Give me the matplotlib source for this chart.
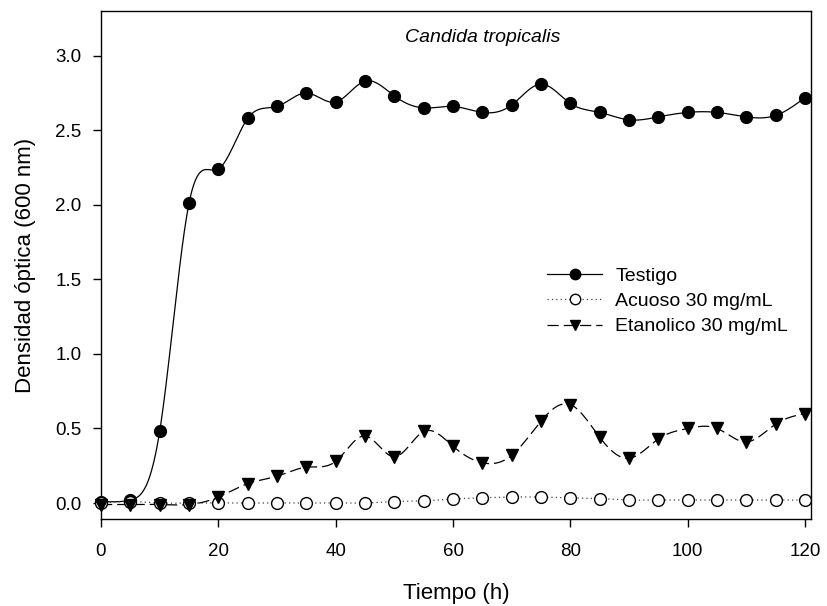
import numpy as np
import matplotlib
matplotlib.use("Agg")
import matplotlib.pyplot as plt

plt.rcParams['font.family'] = ['Liberation Sans', 'DejaVu Sans']

tiempo = [0, 5, 10, 15, 20, 25, 30, 35, 40, 45, 50, 55, 60,
          65, 70, 75, 80, 85, 90, 95, 100, 105, 110, 115, 120]
testigo = [0.01, 0.02, 0.48, 2.01, 2.24, 2.58, 2.66, 2.75, 2.69, 2.83, 2.73, 2.65, 2.66,
           2.62, 2.67, 2.81, 2.68, 2.62, 2.57, 2.59, 2.62, 2.62, 2.59, 2.60, 2.72]
acuoso = [0.00, 0.01, 0.00, 0.00, 0.00, 0.00, 0.00, 0.00, 0.00, 0.00, 0.01, 0.015, 0.027,
          0.035, 0.04, 0.04, 0.035, 0.03, 0.02, 0.02, 0.02, 0.02, 0.02, 0.02, 0.02]
etanolico = [-0.01, -0.01, -0.01, -0.01, 0.04, 0.13, 0.18, 0.24, 0.28, 0.45, 0.31, 0.48, 0.38,
             0.27, 0.32, 0.55, 0.66, 0.44, 0.30, 0.43, 0.50, 0.50, 0.41, 0.53, 0.60]


def spline(x, y, n=600):
    # natural cubic spline, only used to draw the smooth connecting line
    x = np.asarray(x, float)
    y = np.asarray(y, float)
    k = len(x)
    h = np.diff(x)
    A = np.zeros((k, k))
    b = np.zeros(k)
    A[0, 0] = A[-1, -1] = 1
    for i in range(1, k - 1):
        A[i, i - 1] = h[i - 1]
        A[i, i] = 2 * (h[i - 1] + h[i])
        A[i, i + 1] = h[i]
        b[i] = 3 * ((y[i + 1] - y[i]) / h[i] - (y[i] - y[i - 1]) / h[i - 1])
    c = np.linalg.solve(A, b)
    xs = np.linspace(x[0], x[-1], n)
    j = np.clip(np.searchsorted(x, xs) - 1, 0, k - 2)
    dx = xs - x[j]
    bb = (y[j + 1] - y[j]) / h[j] - h[j] * (2 * c[j] + c[j + 1]) / 3
    dd = (c[j + 1] - c[j]) / (3 * h[j])
    return xs, y[j] + bb * dx + c[j] * dx ** 2 + dd * dx ** 3


fig = plt.figure(figsize=(8.27, 6.06), dpi=100)
ax = fig.add_axes([0.1221, 0.1436, 0.8586, 0.8382])

series = [
    (testigo, 'Testigo', 'o', 'black', '-', 'black'),
    (acuoso, 'Acuoso 30 mg/mL', 'o', 'white', (0, (1, 2.5)), '#444444'),
    (etanolico, 'Etanolico 30 mg/mL', 'v', 'black', (0, (9, 4)), 'black'),
]
handles = []
for vals, lab, mk, fc, ls, lc in series:
    xs, ys = spline(tiempo, vals)
    ax.plot(xs, ys, color=lc, lw=0.9, ls=ls, zorder=2)
    ax.plot(tiempo, vals, ls='none', marker=mk, ms=8.5, mfc=fc, mec='black',
            mew=1.0, clip_on=False, zorder=3)
    h, = ax.plot([], [], color=lc, lw=0.9, ls=ls, marker=mk, ms=7.5, mfc=fc,
                 mec='black', mew=1.0, label=lab)
    handles.append(h)

ax.set_xlim(0, 121)
ax.set_ylim(-0.107, 3.3)
ax.set_xticks(range(0, 121, 20))
ax.set_yticks(np.arange(0, 3.01, 0.5))
ax.yaxis.set_major_formatter(matplotlib.ticker.FormatStrFormatter('%.1f'))
ax.tick_params(direction='out', length=6, width=1, labelsize=13.5)
ax.tick_params(axis='x', pad=11)
ax.tick_params(axis='y', pad=8)
for s in ax.spines.values():
    s.set_linewidth(1.0)

ax.set_xlabel('Tiempo (h)', fontsize=16, labelpad=17)
ax.set_ylabel('Densidad óptica (600 nm)', fontsize=16, labelpad=14)
ax.text(0.537, 0.948, 'Candida tropicalis', transform=ax.transAxes,
        style='italic', fontsize=14, ha='center', va='center')

ax.legend(handles=handles, loc='upper left', bbox_to_anchor=(0.615, 0.515),
          frameon=False, fontsize=14, handlelength=2.8, handletextpad=0.7,
          labelspacing=0.4, borderpad=0)

fig.savefig('out.png', dpi=100)
